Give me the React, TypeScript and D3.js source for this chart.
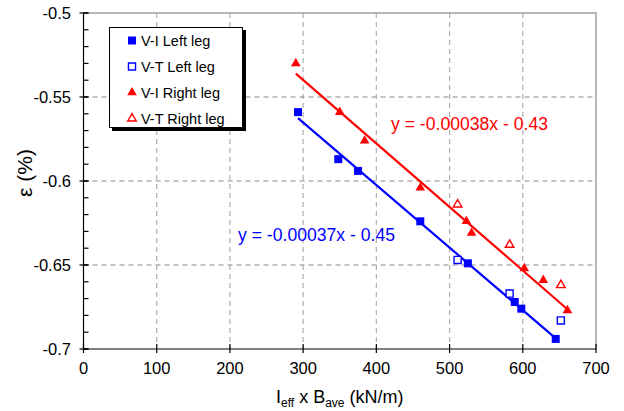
import React, { useRef, useEffect } from "react";
import * as d3 from "d3";

// axis ticks
const xTicks = [0, 100, 200, 300, 400, 500, 600, 700];
const xTickLabels = ["0", "100", "200", "300", "400", "500", "600", "700"];
const yTicks = [-0.7, -0.65, -0.6, -0.55, -0.5];
const yTickLabels = ["-0.7", "-0.65", "-0.6", "-0.55", "-0.5"];

// V-I Left leg (filled squares)
const viLeftX = [293, 348, 375, 460, 525, 589, 598, 645];
const viLeftY = [-0.559, -0.587, -0.594, -0.624, -0.649, -0.672, -0.676, -0.694];
// V-T Left leg (open squares)
const vtLeftX = [511, 582, 652];
const vtLeftY = [-0.647, -0.667, -0.683];
// V-I Right leg (filled triangles)
const viRightX = [290, 350, 384, 460, 523, 530, 602, 628, 661];
const viRightY = [-0.530, -0.559, -0.576, -0.604, -0.624, -0.631, -0.652, -0.659, -0.677];
// V-T Right leg (open triangles)
const vtRightX = [511, 582, 652];
const vtRightY = [-0.614, -0.638, -0.662];

const legendLabels = ["V-I Left leg", "V-T Left leg", "V-I Right leg", "V-T Right leg"];
const blueEq = "y = -0.00037x - 0.45";
const redEq = "y = -0.00038x - 0.43";

const BLUE = "#0000ff";
const RED = "#ff0000";

//least squares fit
function fit(xs: number[], ys: number[]) {
  const mx = d3.mean(xs)!;
  const my = d3.mean(ys)!;
  const sxy = d3.sum(xs, (x, i) => (x - mx) * (ys[i] - my));
  const sxx = d3.sum(xs, (x) => (x - mx) * (x - mx));
  const m = sxy / sxx;
  return { m, b: my - m * mx };
}

export default function App() {
  const svgRef = useRef<SVGSVGElement>(null);

  useEffect(() => {
    const svg = d3.select(svgRef.current);
    svg.selectAll("*").remove();

    const left = 83.5, right = 596, top = 13, bottom = 349;
    const x = d3.scaleLinear().domain([0, 700]).range([left, right]);
    const y = d3.scaleLinear().domain([-0.7, -0.5]).range([bottom, top]);
    const font = "Liberation Sans, Arial, Helvetica, sans-serif";

    //grid
    const grid = svg.append("g");
    grid.selectAll(".vg")
      .data(xTicks.slice(1, -1))
      .join("line")
      .attr("x1", (d) => x(d)).attr("x2", (d) => x(d))
      .attr("y1", top).attr("y2", bottom)
      .attr("stroke", "#b0b0b0").attr("stroke-width", 1.2)
      .attr("stroke-dasharray", "5,4");
    grid.selectAll(".hg")
      .data(yTicks.slice(1, -1))
      .join("line")
      .attr("x1", left).attr("x2", right)
      .attr("y1", (d) => y(d)).attr("y2", (d) => y(d))
      .attr("stroke", "#8a8a8a").attr("stroke-width", 1.2)
      .attr("stroke-dasharray", "5,4");

    //frame top/right
    svg.append("path")
      .attr("d", `M${left},${top}H${right}V${bottom}`)
      .attr("fill", "none").attr("stroke", "#a0a0a0").attr("stroke-width", 1.5);

    //axes
    const ax = svg.append("g").attr("stroke", "#000").attr("stroke-width", 1.2);
    ax.append("line").attr("x1", left).attr("x2", right).attr("y1", bottom).attr("y2", bottom);
    ax.append("line").attr("x1", left).attr("x2", left).attr("y1", top).attr("y2", bottom);
    ax.selectAll(".xt").data(xTicks).join("line")
      .attr("x1", (d) => x(d)).attr("x2", (d) => x(d))
      .attr("y1", bottom - 5).attr("y2", bottom + 4);
    ax.selectAll(".yt").data(yTicks).join("line")
      .attr("x1", left - 4).attr("x2", left + 5)
      .attr("y1", (d) => y(d)).attr("y2", (d) => y(d));
    ax.selectAll(".ym").data(d3.range(0, 21).map((i) => -0.7 + i * 0.01)).join("line")
      .attr("x1", left).attr("x2", left + 5)
      .attr("y1", (d) => y(d)).attr("y2", (d) => y(d));

    //tick labels
    svg.selectAll(".xl").data(xTicks).join("text")
      .attr("x", (d) => x(d)).attr("y", 374)
      .attr("text-anchor", "middle")
      .attr("font-family", font).attr("font-size", 16.5)
      .text((d, i) => xTickLabels[i]);
    svg.selectAll(".yl").data(yTicks).join("text")
      .attr("x", 71).attr("y", (d) => y(d) + 6)
      .attr("text-anchor", "end")
      .attr("font-family", font).attr("font-size", 16.5)
      .text((d, i) => yTickLabels[i]);

    //axis titles
    svg.append("text")
      .attr("transform", "translate(32,173) rotate(-90)")
      .attr("text-anchor", "middle")
      .attr("font-family", font).attr("font-size", 21)
      .text("ε (%)");
    const xt = svg.append("text")
      .attr("x", (left + right) / 2).attr("y", 403)
      .attr("text-anchor", "middle")
      .attr("font-family", font).attr("font-size", 18);
    xt.append("tspan").text("I");
    xt.append("tspan").attr("font-size", 12).attr("dy", 4).text("eff");
    xt.append("tspan").attr("dy", -4).text(" x B");
    xt.append("tspan").attr("font-size", 12).attr("dy", 4).text("ave");
    xt.append("tspan").attr("dy", -4).text(" (kN/m)");

    //trend lines
    const trend = (xs: number[], ys: number[], color: string) => {
      const { m, b } = fit(xs, ys);
      const ext = d3.extent(xs) as [number, number];
      svg.append("path")
        .datum(ext)
        .attr("d", d3.line<number>().x((d) => x(d)).y((d) => y(m * d + b)))
        .attr("stroke", color).attr("stroke-width", 2.2).attr("fill", "none");
    };
    trend(viLeftX, viLeftY, BLUE);
    trend(viRightX, viRightY, RED);

    //markers
    const square = d3.symbol(d3.symbolSquare, 64);
    const squareOpen = d3.symbol(d3.symbolSquare, 50);
    const tri = d3.symbol(d3.symbolTriangle, 40);
    const triOpen = d3.symbol(d3.symbolTriangle, 32);
    const pts = (xs: number[], ys: number[], sym: any, color: string, filled: boolean) => {
      svg.append("g").selectAll("path")
        .data(xs.map((v, i) => [v, ys[i]]))
        .join("path")
        .attr("transform", (d) => `translate(${x(d[0])},${y(d[1])})`)
        .attr("d", sym)
        .attr("fill", filled ? color : "#fff")
        .attr("stroke", filled ? "none" : color)
        .attr("stroke-width", 1.4);
    };
    pts(vtLeftX, vtLeftY, squareOpen, BLUE, false);
    pts(vtRightX, vtRightY, triOpen, RED, false);
    pts(viLeftX, viLeftY, square, BLUE, true);
    pts(viRightX, viRightY, tri, RED, true);

    //equations
    svg.append("text").attr("x", 238).attr("y", 241)
      .attr("font-family", font).attr("font-size", 17.6).attr("fill", BLUE).text(blueEq);
    svg.append("text").attr("x", 391).attr("y", 130)
      .attr("font-family", font).attr("font-size", 17.6).attr("fill", RED).text(redEq);

    //legend
    const lg = svg.append("g");
    lg.append("rect").attr("x", 112).attr("y", 30).attr("width", 134).attr("height", 101).attr("fill", "#000");
    lg.append("rect").attr("x", 109.5).attr("y", 27.5).attr("width", 133).attr("height", 100)
      .attr("fill", "#fff").attr("stroke", "#000").attr("stroke-width", 1);
    const syms = [
      [square, BLUE, true],
      [squareOpen, BLUE, false],
      [tri, RED, true],
      [triOpen, RED, false],
    ];
    legendLabels.forEach((lab, i) => {
      const cy = 40.5 + i * 26;
      const [sym, color, filled] = syms[i] as any;
      lg.append("path")
        .attr("transform", `translate(132,${cy})`)
        .attr("d", sym)
        .attr("fill", filled ? color : "#fff")
        .attr("stroke", filled ? "none" : color)
        .attr("stroke-width", 1.4);
      lg.append("text").attr("x", 141).attr("y", cy + 5)
        .attr("font-family", font).attr("font-size", 14.5).text(lab);
    });
  }, []);

  return (
    <svg
      ref={svgRef}
      width={624}
      height={411}
      style={{ position: "absolute", left: 0, top: 0, background: "#fff" }}
    ></svg>
  );
}
